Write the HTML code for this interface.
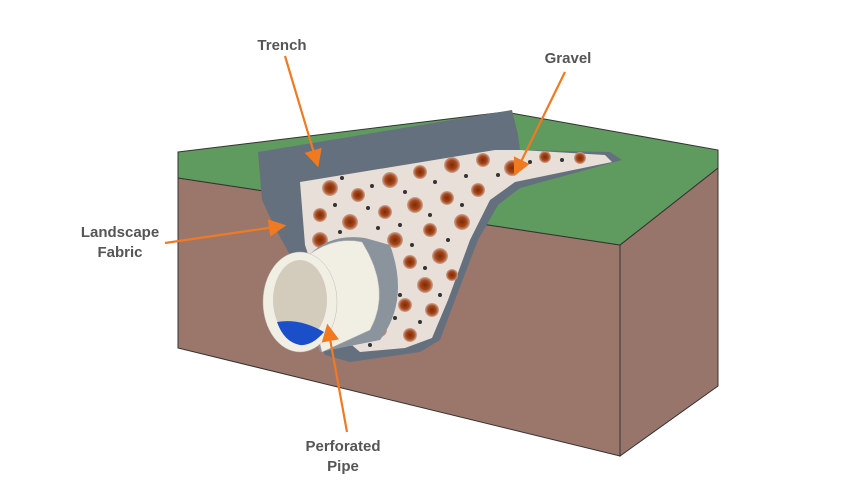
<!DOCTYPE html>
<html><head><meta charset="utf-8"><style>
html,body{margin:0;padding:0;background:#fff;}
svg{display:block;}
text{font-family:"Liberation Sans",Arial,sans-serif;font-weight:bold;fill:#555;font-size:15px;}
</style></head><body>
<svg width="850" height="500" viewBox="0 0 850 500">
<defs>
<marker id="ah" markerWidth="8" markerHeight="8" refX="6" refY="4" orient="auto"><path d="M0,0 L8,4 L0,8 Z" fill="#ef7a22"/></marker>
<radialGradient id="rock"><stop offset="0" stop-color="#7a2a08"/><stop offset="0.6" stop-color="#a9471a"/><stop offset="1" stop-color="#c9a898"/></radialGradient>
</defs>
<!-- front face -->
<polygon points="178,178 620,245 620,456 178,348" fill="#9b776b" stroke="#333" stroke-width="1"/>
<!-- right face -->
<polygon points="620,245 718,168 718,386 620,456" fill="#98756a" stroke="#333" stroke-width="1"/>
<!-- green top -->
<polygon points="178,152 505,112 718,150 718,168 620,245 178,178" fill="#5f9a5f" stroke="#333" stroke-width="1"/>
<!-- trench gray outer -->
<path d="M258,152 L512,110 L518,135 L520,150 L610,152 L622,160 L520,188 L498,205 L478,240 L455,300 L440,340 L420,352 L350,362 L325,355 L300,300 L290,255 L275,228 L262,200 Z" fill="#65707e"/>
<!-- gravel -->
<path d="M300,182 L495,150 L520,150 L605,155 L612,162 L515,182 L490,200 L470,240 L448,300 L432,338 L405,348 L360,352 L340,335 L320,290 L305,245 Z" fill="#e8e0d8"/>
<g fill="url(#rock)">
<circle cx="330" cy="188" r="8"/><circle cx="358" cy="195" r="7"/><circle cx="390" cy="180" r="8"/><circle cx="420" cy="172" r="7"/><circle cx="452" cy="165" r="8"/><circle cx="483" cy="160" r="7"/><circle cx="512" cy="168" r="8"/><circle cx="545" cy="157" r="6"/><circle cx="580" cy="158" r="6"/>
<circle cx="320" cy="215" r="7"/><circle cx="350" cy="222" r="8"/><circle cx="385" cy="212" r="7"/><circle cx="415" cy="205" r="8"/><circle cx="447" cy="198" r="7"/><circle cx="478" cy="190" r="7"/>
<circle cx="320" cy="240" r="8"/><circle cx="360" cy="245" r="7"/><circle cx="395" cy="240" r="8"/><circle cx="430" cy="230" r="7"/><circle cx="462" cy="222" r="8"/>
<circle cx="410" cy="262" r="7"/><circle cx="440" cy="256" r="8"/><circle cx="390" cy="280" r="7"/><circle cx="425" cy="285" r="8"/><circle cx="452" cy="275" r="6"/>
<circle cx="405" cy="305" r="7"/><circle cx="432" cy="310" r="7"/><circle cx="380" cy="330" r="7"/><circle cx="410" cy="335" r="7"/><circle cx="350" cy="340" r="6"/>
</g>
<g fill="#333">
<circle cx="342" cy="178" r="2"/><circle cx="372" cy="186" r="2"/><circle cx="405" cy="192" r="2"/><circle cx="435" cy="182" r="2"/><circle cx="466" cy="176" r="2"/><circle cx="498" cy="175" r="2"/><circle cx="530" cy="162" r="2"/><circle cx="562" cy="160" r="2"/>
<circle cx="335" cy="205" r="2"/><circle cx="368" cy="208" r="2"/><circle cx="400" cy="225" r="2"/><circle cx="430" cy="215" r="2"/><circle cx="462" cy="205" r="2"/>
<circle cx="340" cy="232" r="2"/><circle cx="378" cy="228" r="2"/><circle cx="412" cy="245" r="2"/><circle cx="448" cy="240" r="2"/><circle cx="400" cy="295" r="2"/><circle cx="420" cy="322" r="2"/><circle cx="440" cy="295" r="2"/><circle cx="395" cy="318" r="2"/><circle cx="370" cy="345" r="2"/><circle cx="425" cy="268" r="2"/>
</g>
<!-- pipe -->
<path d="M298,270 Q320,232 365,238 L390,245 Q410,300 380,340 L320,352 Z" fill="#8b939c"/>
<path d="M300,262 Q330,235 362,242 Q392,290 370,330 L322,352 Z" fill="#f1efe4" stroke="#bbb" stroke-width="0.5"/>
<ellipse cx="300" cy="302" rx="37" ry="50" fill="#f1efe4" stroke="#bbb" stroke-width="0.5"/>
<ellipse cx="300" cy="300" rx="27" ry="40" fill="#d3cbbc"/>
<path d="M277,322 Q300,318 324,332 Q312,346 300,345 Q284,342 277,322 Z" fill="#1a4fc9"/>
<!-- arrows -->
<g stroke="#ef7a22" stroke-width="2.2" fill="none" marker-end="url(#ah)">
<line x1="285" y1="56" x2="317" y2="163"/>
<line x1="565" y1="72" x2="516" y2="172"/>
<line x1="165" y1="243" x2="282" y2="226"/>
<line x1="347" y1="432" x2="328" y2="328"/>
</g>
<text x="282" y="50" text-anchor="middle">Trench</text>
<text x="568" y="63" text-anchor="middle">Gravel</text>
<text x="120" y="237" text-anchor="middle">Landscape</text>
<text x="120" y="257" text-anchor="middle">Fabric</text>
<text x="343" y="451" text-anchor="middle">Perforated</text>
<text x="343" y="471" text-anchor="middle">Pipe</text>
</svg>
</body></html>
